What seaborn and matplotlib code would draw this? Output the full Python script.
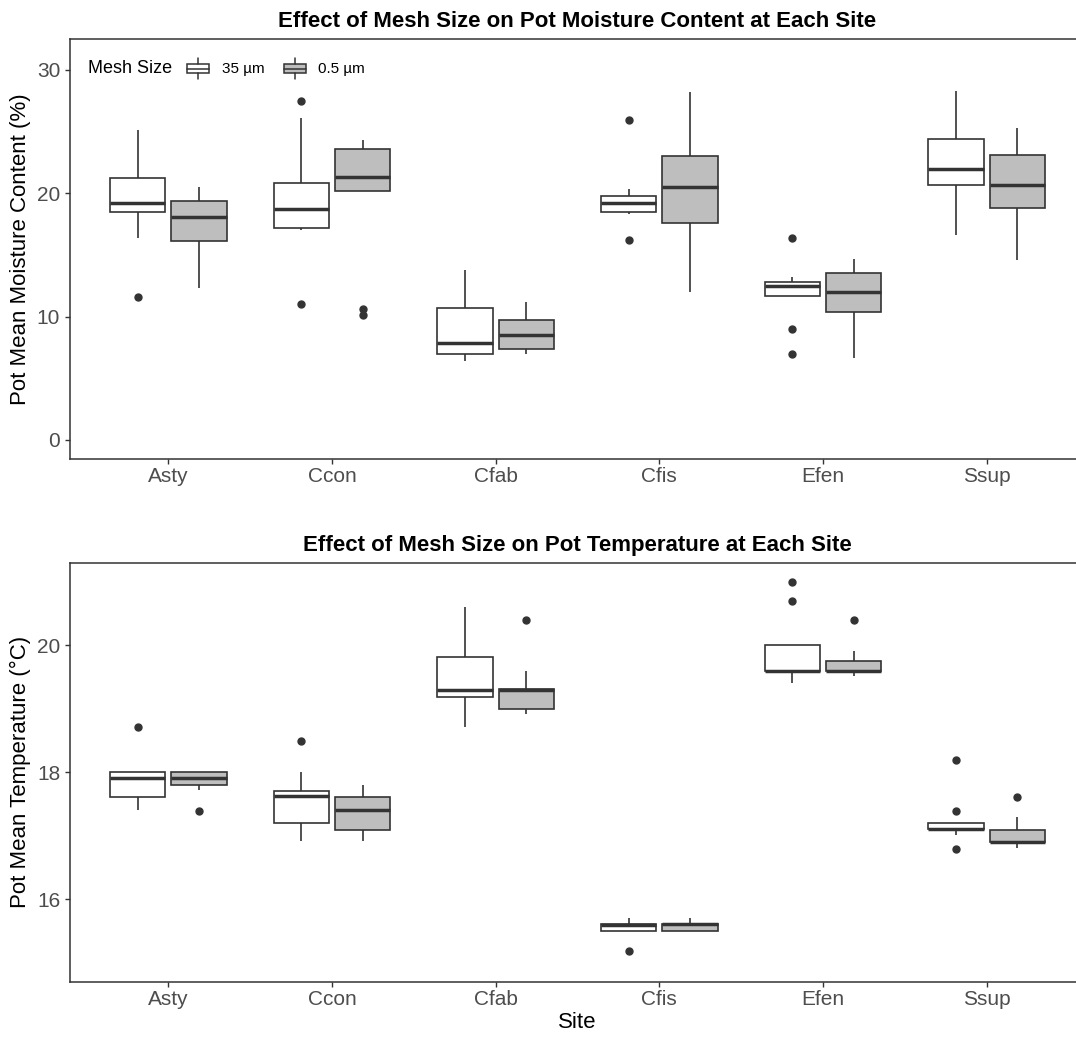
import matplotlib
matplotlib.use("Agg")
import matplotlib.pyplot as plt
from matplotlib.patches import Patch, Rectangle
from matplotlib.lines import Line2D
from matplotlib.legend_handler import HandlerBase
import seaborn as sns
import pandas as pd

# sites on the x axis and the two mesh sizes
sites = ["Asty", "Ccon", "Cfab", "Cfis", "Efen", "Ssup"]
mesh_sizes = ["35 µm", "0.5 µm"]

# pot mean moisture content (%), one list of pots per site
moisture_35 = [
    [11.6, 16.4, 18.5, 18.9, 19.2, 20.1, 21.2, 22.8, 25.1],
    [11.0, 17.0, 17.2, 17.9, 18.7, 19.8, 20.8, 26.1, 27.5],
    [6.43, 6.7, 6.97, 7.4, 7.85, 9.2, 10.7, 12.0, 13.8],
    [16.2, 18.3, 18.5, 18.9, 19.2, 19.5, 19.8, 20.35, 25.9],
    [6.97, 8.97, 11.7, 12.2, 12.5, 12.7, 12.8, 13.2, 16.4],
    [16.6, 18.6, 20.65, 21.3, 22.0, 23.2, 24.4, 26.3, 28.3],
]
moisture_05 = [
    [12.3, 14.2, 16.1, 17.2, 18.05, 18.8, 19.4, 19.9, 20.5],
    [10.1, 10.65, 20.2, 20.8, 21.3, 22.5, 23.6, 24.0, 24.3],
    [6.97, 7.2, 7.38, 8.0, 8.54, 9.1, 9.7, 10.4, 11.2],
    [12.0, 15.0, 17.6, 19.0, 20.5, 21.8, 23.0, 25.5, 28.2],
    [6.6, 8.5, 10.4, 11.2, 11.97, 12.8, 13.54, 14.1, 14.7],
    [14.6, 16.7, 18.8, 19.8, 20.7, 21.9, 23.1, 24.2, 25.3],
]

# pot mean temperature (°C)
temp_35 = [
    [17.40, 17.5, 17.61, 17.8, 17.91, 17.95, 18.0, 18.0, 18.71],
    [16.92, 17.05, 17.2, 17.45, 17.62, 17.68, 17.71, 18.0, 18.5],
    [18.72, 19.0, 19.19, 19.25, 19.30, 19.5, 19.81, 20.2, 20.6],
    [15.19, 15.51, 15.51, 15.55, 15.60, 15.61, 15.62, 15.65, 15.71],
    [19.41, 19.6, 19.6, 19.6, 19.6, 19.8, 20.0, 20.69, 21.0],
    [16.8, 17.02, 17.11, 17.11, 17.11, 17.15, 17.2, 17.39, 18.2],
]
temp_05 = [
    [17.39, 17.73, 17.80, 17.85, 17.91, 17.95, 18.0, 18.0, 18.0],
    [16.92, 17.0, 17.1, 17.25, 17.4, 17.5, 17.61, 17.7, 17.8],
    [18.92, 18.96, 19.0, 19.2, 19.3, 19.3, 19.31, 19.6, 20.4],
    [15.51, 15.51, 15.51, 15.58, 15.62, 15.62, 15.62, 15.66, 15.71],
    [19.51, 19.6, 19.6, 19.6, 19.6, 19.7, 19.75, 19.91, 20.4],
    [16.81, 16.91, 16.91, 16.91, 16.91, 17.0, 17.1, 17.3, 17.61],
]


def to_long(values_35, values_05):
    rows = []
    for mesh, groups in zip(mesh_sizes, [values_35, values_05]):
        for site, vals in zip(sites, groups):
            for v in vals:
                rows.append({"site": site, "mesh": mesh, "value": v})
    return pd.DataFrame(rows)


moisture_df = to_long(moisture_35, moisture_05)
temp_df = to_long(temp_35, temp_05)

# ggplot-ish look
sns.set_style("ticks")
plt.rcParams["font.family"] = ["Liberation Sans", "DejaVu Sans"]
plt.rcParams["text.color"] = "black"
plt.rcParams["axes.labelcolor"] = "black"

dark = "#333333"
fills = {"35 µm": "white", "0.5 µm": "#BEBEBE"}


class BoxKey(HandlerBase):
    # legend key drawn like a small boxplot
    def create_artists(self, legend, orig_handle, xdescent, ydescent,
                       width, height, fontsize, trans):
        x0, y0 = -xdescent, -ydescent
        xm = x0 + width / 2
        box = Rectangle((x0, y0 + 0.28 * height), width, 0.44 * height,
                        facecolor=orig_handle.get_facecolor(), edgecolor=dark,
                        lw=1.1, transform=trans)
        kw = dict(color=dark, lw=1.1, transform=trans)
        lines = [Line2D([xm, xm], [y0, y0 + 0.28 * height], **kw),
                 Line2D([xm, xm], [y0 + 0.72 * height, y0 + height], **kw),
                 Line2D([x0, x0 + width], [y0 + 0.5 * height] * 2, **kw)]
        return [box] + lines


W, H = 1076, 1037
fig = plt.figure(figsize=(W / 100, H / 100), dpi=100)
ax1 = fig.add_axes([70 / W, 1 - 459 / H, (1085 - 70) / W, (459 - 39) / H])
ax2 = fig.add_axes([70 / W, 1 - 982 / H, (1085 - 70) / W, (982 - 562.7) / H])

panels = [
    (ax1, moisture_df, "Effect of Mesh Size on Pot Moisture Content at Each Site",
     "Pot Mean Moisture Content (%)", (-1.55, 32.5), [0, 10, 20, 30], ""),
    (ax2, temp_df, "Effect of Mesh Size on Pot Temperature at Each Site",
     "Pot Mean Temperature (°C)", (14.7, 21.3), [16, 18, 20], "Site"),
]

for ax, df, title, ylabel, ylim, yticks, xlabel in panels:
    sns.boxplot(data=df, x="site", y="value", hue="mesh", order=sites,
                hue_order=mesh_sizes, palette=fills, saturation=1,
                width=0.75, gap=0.1, linecolor=dark, linewidth=1.2,
                showcaps=False, fliersize=5,
                medianprops={"linewidth": 2.5, "color": dark},
                flierprops={"marker": "o", "markerfacecolor": dark,
                            "markeredgecolor": dark},
                legend=False, ax=ax)
    ax.set_xlim(-0.6, 5.6)
    ax.set_ylim(*ylim)
    ax.set_yticks(yticks)
    ax.set_title(title, fontsize=16, fontweight="bold", pad=8.5, color="black")
    ax.set_ylabel(ylabel, fontsize=16, labelpad=4, color="black")
    ax.set_xlabel(xlabel, fontsize=16, labelpad=2, color="black")
    for side in ["top", "right", "bottom", "left"]:
        ax.spines[side].set_visible(True)
        ax.spines[side].set_color(dark)
        ax.spines[side].set_linewidth(1.1)
    ax.tick_params(axis="both", length=3.5, width=1, color=dark,
                   labelcolor="#4D4D4D", labelsize=15)
    ax.tick_params(axis="x", pad=2.5)
    ax.tick_params(axis="y", pad=3.6)

# legend, ggplot style: title on the left, keys in a row
fig.text(88 / W, 1 - 68.5 / H, "Mesh Size", fontsize=13, va="center",
         ha="left", color="black")
handles = [Patch(facecolor=fills[m], edgecolor=dark) for m in mesh_sizes]
leg = ax1.legend(handles, mesh_sizes, handler_map={Patch: BoxKey()}, ncol=2,
                 loc="center left", bbox_to_anchor=(186.7 / W, 1 - 68.5 / H),
                 bbox_transform=fig.transFigure, frameon=False, fontsize=11,
                 borderpad=0, borderaxespad=0, handlelength=1.48,
                 handleheight=1.64, handletextpad=0.8, columnspacing=1.27)
for t in leg.get_texts():
    t.set_color("black")

fig.savefig("out.png", dpi=100)
